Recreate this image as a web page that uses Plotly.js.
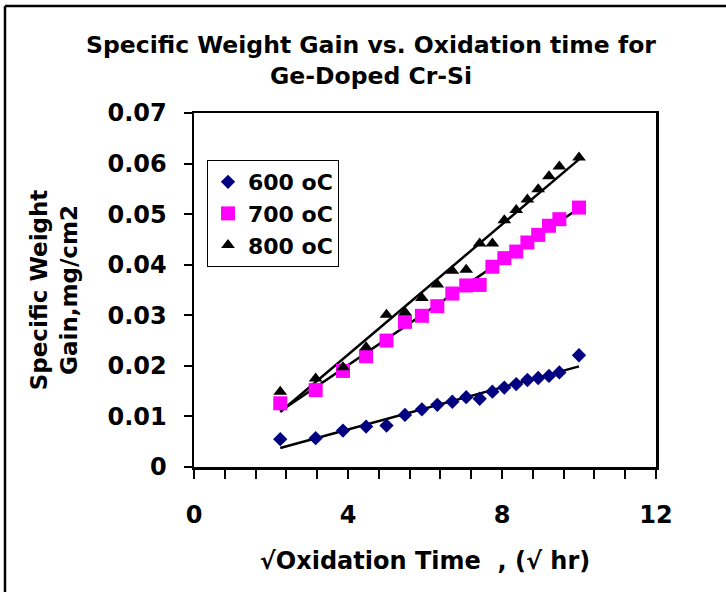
<!DOCTYPE html>
<html>
<head>
<meta charset="utf-8">
<script src="https://cdn.plot.ly/plotly-3.0.1.min.js"></script>
<style>
html,body{margin:0;padding:0;background:#fff;}
#chart{width:726px;height:592px;}
</style>
</head>
<body>
<div id="chart"></div>
<script>
// √(oxidation time), √hr
const sqrtTime = [2.24, 3.16, 3.87, 4.47, 5.00, 5.48, 5.92, 6.32, 6.71, 7.07, 7.42, 7.75, 8.06, 8.37, 8.66, 8.94, 9.22, 9.49, 10.00];
// Specific weight gain, mg/cm2
const gain600 = [0.0055, 0.0057, 0.0072, 0.0080, 0.0082, 0.0103, 0.0114, 0.0123, 0.0129, 0.0138, 0.0135, 0.0149, 0.0157, 0.0164, 0.0172, 0.0176, 0.0180, 0.0187, 0.0221];
const gain700 = [0.0126, 0.0152, 0.0190, 0.0219, 0.0250, 0.0287, 0.0299, 0.0318, 0.0343, 0.0359, 0.0360, 0.0396, 0.0413, 0.0426, 0.0444, 0.0459, 0.0477, 0.0490, 0.0513];
const gain800 = [0.0149, 0.0175, 0.0197, 0.0237, 0.0301, 0.0306, 0.0334, 0.0361, 0.0388, 0.0390, 0.0442, 0.0442, 0.0488, 0.0508, 0.0529, 0.0549, 0.0575, 0.0594, 0.0612];
const seriesNames = ["600 oC", "700 oC", "800 oC"];
const xTickVals = [0, 4, 8, 12];

const FONT = "DejaVu Sans, Arial, sans-serif";

function linFit(xs, ys) {
  const n = xs.length;
  let sx = 0, sy = 0, sxx = 0, sxy = 0;
  for (let i = 0; i < n; i++) { sx += xs[i]; sy += ys[i]; sxx += xs[i]*xs[i]; sxy += xs[i]*ys[i]; }
  const b = (n*sxy - sx*sy) / (n*sxx - sx*sx);
  const a = (sy - b*sx) / n;
  const x0 = Math.min(...xs), x1 = Math.max(...xs);
  return {x: [x0, x1], y: [a + b*x0, a + b*x1]};
}

const styles = [
  {symbol: "diamond", color: "#000080", size: 11},
  {symbol: "square", color: "#FF00FF", size: 14},
  {symbol: "triangle-up", color: "#000000", size: 12}
];
const ys = [gain600, gain700, gain800];

const traces = [];
ys.forEach((arr, i) => {
  const f = linFit(sqrtTime, arr);
  traces.push({x: f.x, y: f.y, mode: "lines", line: {color: "#000", width: 2.5}, showlegend: false, hoverinfo: "skip"});
});
ys.forEach((arr, i) => {
  traces.push({
    x: sqrtTime, y: arr, mode: "markers", name: seriesNames[i],
    marker: {symbol: styles[i].symbol, color: styles[i].color, size: styles[i].size, line: {width: 0}}
  });
});

const L = 194, R = 70, T = 113, B = 125, W = 726, H = 592;
const pw = W - L - R, ph = H - T - B;
const px2x = p => (p - L) / pw;
const py2y = p => (H - B - p) / ph;

const layout = {
  width: W, height: H,
  margin: {l: L, r: R, t: T, b: B},
  paper_bgcolor: "#fff", plot_bgcolor: "#fff",
  font: {family: FONT, color: "#000", size: 23, weight: "bold"},
  title: {
    text: "Specific Weight Gain vs. Oxidation time for<br>Ge-Doped Cr-Si",
    font: {family: FONT, size: 23.5, color: "#000", weight: "bold"},
    x: 0.511, xref: "container", xanchor: "center",
    y: 0.91, yref: "container", yanchor: "top"
  },
  xaxis: {
    range: [0, 12], tickvals: xTickVals, ticks: "outside", ticklen: 9, tickwidth: 2, tickcolor: "#000",
    showline: true, linecolor: "#000", linewidth: 2.5, mirror: true,
    showgrid: false, zeroline: false, ticklabelstandoff: 16,
    tickfont: {family: FONT, size: 24, color: "#000", weight: "bold"},
    minor: {dtick: 0.8, tick0: 0, ticks: "outside", ticklen: 9, tickwidth: 2, tickcolor: "#000", showgrid: false},
    title: {text: "√Oxidation Time\u00a0\u00a0, (√ hr)", standoff: 24, font: {family: FONT, size: 24, color: "#000", weight: "bold"}}
  },
  yaxis: {
    range: [0, 0.07], dtick: 0.01, tick0: 0, ticks: "outside", ticklen: 8, tickwidth: 2, tickcolor: "#000",
    showline: true, linecolor: "#000", linewidth: 2.5, mirror: true,
    showgrid: false, zeroline: false, ticklabelstandoff: 12,
    tickfont: {family: FONT, size: 24, color: "#000", weight: "bold"},
    title: {text: "Specific Weight<br>Gain,mg/cm2", standoff: 24, font: {family: FONT, size: 23, color: "#000", weight: "bold"}}
  },
  legend: {
    x: px2x(207), y: py2y(160), xanchor: "left", yanchor: "top",
    bgcolor: "#fff", bordercolor: "#000", borderwidth: 1,
    font: {family: FONT, size: 22, color: "#000", weight: "bold"},
    itemsizing: "trace", tracegroupgap: 0
  },
  shapes: [
    {type: "line", xref: "paper", yref: "paper", x0: px2x(5), x1: px2x(5), y0: py2y(6), y1: py2y(600), line: {color: "#000", width: 2.5}},
    {type: "line", xref: "paper", yref: "paper", x0: px2x(5), x1: px2x(730), y0: py2y(6), y1: py2y(6), line: {color: "#000", width: 2.5}}
  ],
  showlegend: true
};

Plotly.newPlot("chart", traces, layout, {displayModeBar: false, staticPlot: true});
</script>
</body>
</html>
